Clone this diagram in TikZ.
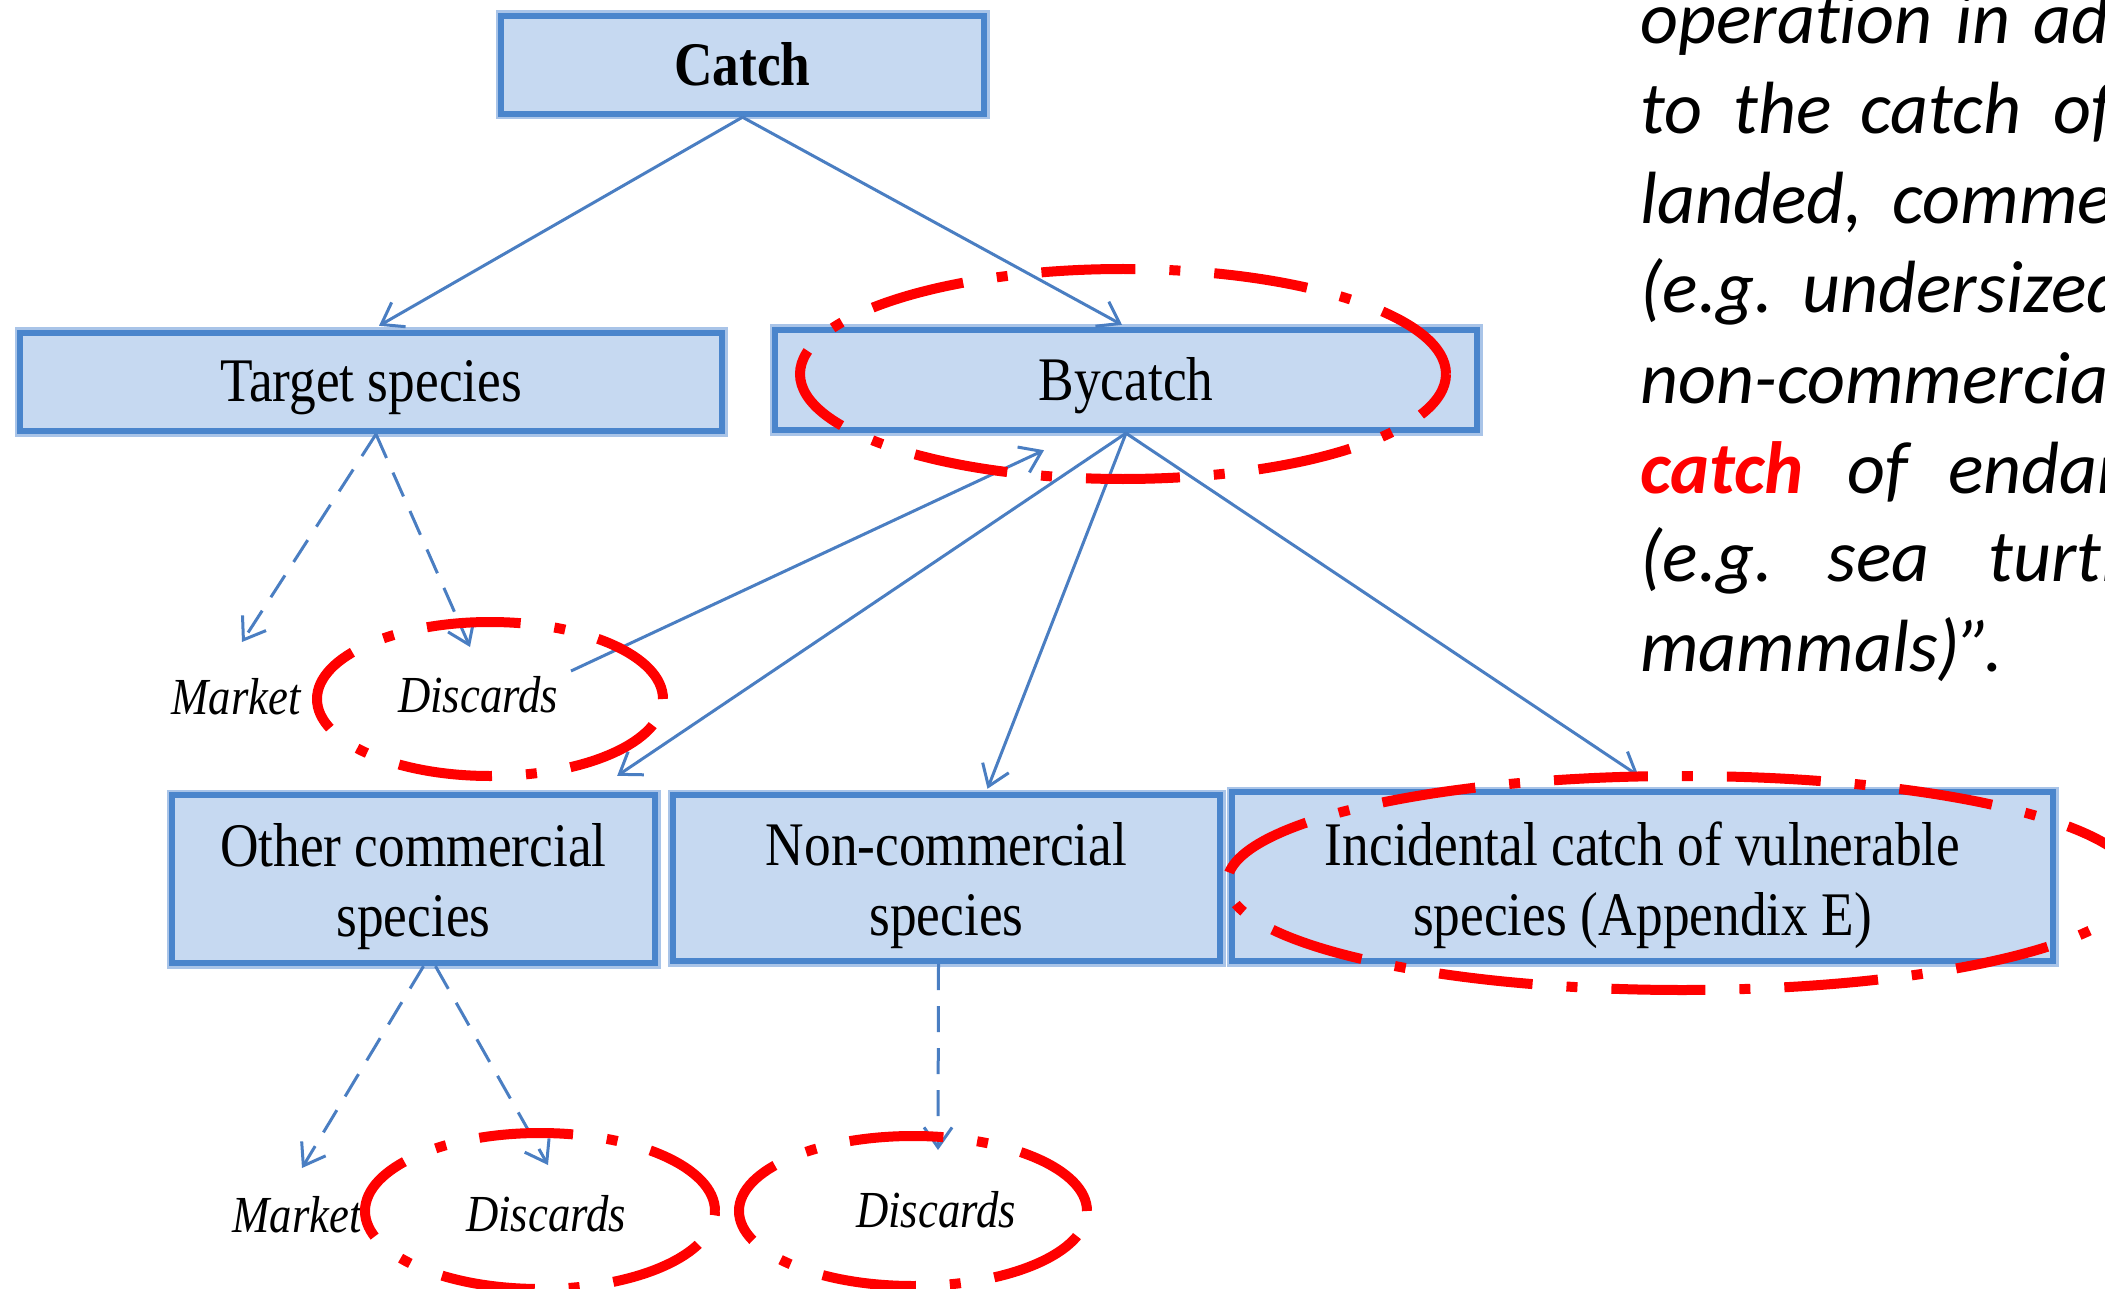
\documentclass[tikz,border=0pt]{standalone}
\usepackage{fontspec}
\newfontfamily\boxfont[FakeStretch=0.86]{Liberation Serif}
\newfontfamily\calfont[Ligatures=NoCommon]{Carlito}
\usetikzlibrary{arrows.meta,calc}
\definecolor{boxblue}{HTML}{4A85CC}
\definecolor{boxhalo}{HTML}{A9C4E8}
\definecolor{boxfill}{HTML}{C6D9F1}
\definecolor{lineblue}{HTML}{4A7EC2}
\definecolor{ringred}{HTML}{FF0000}
\tikzset{
  box/.style={preaction={draw=boxhalo, line width=5.5pt}, draw=boxblue, line width=3.2pt,
    fill=boxfill, inner sep=0pt},
  boxtext/.style={inner sep=0pt, align=center, text=black,
    font=\boxfont\fontsize{31}{35}\selectfont},
  lab/.style={inner sep=0pt, text=black, font=\boxfont\itshape\fontsize{26}{30}\selectfont},
  conn/.style={draw=lineblue, line width=1.5pt, -{Straight Barb[length=10pt,width=14pt]}},
  dconn/.style={conn, dash pattern=on 13pt off 8pt},
  redring/.style={draw=ringred, line width=5pt, dash pattern=on 47pt off 17pt on 5.5pt off 17pt},
  rt/.style={anchor=base west, inner sep=0pt, text=black,
    font=\calfont\itshape\fontsize{37}{44}\selectfont},
}
\begin{document}
\begin{tikzpicture}[x=0.5pt,y=-0.5pt]
\useasboundingbox (0,0) rectangle (2105,1289);
\clip (0,0) rectangle (2105,1289);
\fill[white] (0,0) rectangle (2105,1289);

% boxes
\node[box, minimum width=241.5pt, minimum height=49pt] (cat) at (742.5,65) {};
\node[box, minimum width=351pt, minimum height=49pt] (ts) at (371,382) {};
\node[box, minimum width=351pt, minimum height=50pt] (by) at (1126,380) {};
\node[box, minimum width=241.5pt, minimum height=84pt] (oc) at (413.5,879) {};
\node[box, minimum width=273.5pt, minimum height=83pt] (nc) at (946.5,878) {};
\node[box, minimum width=410.5pt, minimum height=84.5pt] (ic) at (1642.5,876.5) {};

% box texts
\node[boxtext] (catt) at (742.5,64) {\bfseries Catch};
\node[boxtext] (tst) at (371,388) {Target species};
\node[boxtext] (byt) at (1126,386) {Bycatch};
\node[boxtext] (oct) at (413.5,887) {Other commercial\\species};
\node[boxtext] (nct) at (946.5,886) {Non-commercial\\species};
\node[boxtext] (ict) at (1642.5,885) {Incidental catch of vulnerable\\species (Appendix E)};

% labels
\node[lab] (mk1) at (236,697) {Market};
\node[lab] (d1) at (478,695) {Discards};
\node[lab] (mk2) at (297,1215) {Market};
\node[lab] (d2) at (546,1214) {Discards};
\node[lab] (d3) at (936,1210) {Discards};

% connectors
\draw[conn] (cat.south) -- ($(ts.north)+(8,-4)$);
\draw[conn] (cat.south) -- ($(by.north)+(-4,-2)$);
\draw[dconn] ($(ts.south)+(5,0)$) -- ($(mk1.center)+(6,-55)$);
\draw[dconn] ($(ts.south)+(5,0)$) -- ($(d1.center)+(-8,-48)$);
\draw[conn] ($(d1.center)+(93,-24)$) -- ($(by.south)+(-82,17)$);
\draw[conn] (by.south) -- ($(oc.north east)+(-41,-16)$);
\draw[conn] (by.south) -- ($(nc.north)+(41,-3)$);
\draw[conn] (by.south) -- ($(ic.north)+(-4,-13)$);
\draw[dconn] ($(oc.south)+(10,0)$) -- ($(mk2.center)+(5,-47)$);
\draw[dconn] ($(oc.south)+(22,0)$) -- ($(d2.center)+(2,-49)$);
\draw[dconn] ($(nc.south)+(-8,0)$) -- ($(d3.center)+(2,-60)$);

% right-hand text
\node[rt] (r1a) at (1640,44) {operation};
\node[rt] (r1b) at (1955,44) {in};
\node[rt] (r1c) at (2033,44) {ad};
\node[rt] (r2a) at (1640,134) {to};
\node[rt] (r2b) at (1733,134) {the};
\node[rt] (r2c) at (1860,134) {catch};
\node[rt] (r2d) at (2053,134) {of};
\node[rt] (r3a) at (1640,224) {landed,};
\node[rt] (r3b) at (1892,224) {comme};
\node[rt] (r4a) at (1640,313) {(e.g.};
\node[rt] (r4b) at (1802,313) {undersized};
\node[rt] (r5a) at (1640,403) {non-commercia};
\node[rt] (r6a) at (1640,493) {\textcolor{ringred}{\bfseries catch}};
\node[rt] (r6b) at (1847,493) {of};
\node[rt] (r6c) at (1948,493) {endan};
\node[rt] (r7a) at (1640,581) {(e.g.};
\node[rt] (r7b) at (1827,581) {sea};
\node[rt] (r7c) at (1988,581) {turtl};
\node[rt] (r8a) at (1640,671) {mammals)”.};

% red highlight rings
\draw[redring] (1123,374) ellipse [x radius=161.5pt, y radius=52.5pt];
\draw[redring] (490,699) ellipse [x radius=86.5pt, y radius=38.5pt];
\draw[redring] (540,1211) ellipse [x radius=87.5pt, y radius=39pt];
\draw[redring] (913,1211) ellipse [x radius=87pt, y radius=37.5pt];
\draw[redring] (1682,883) ellipse [x radius=227.5pt, y radius=53.5pt];
\end{tikzpicture}
\end{document}
